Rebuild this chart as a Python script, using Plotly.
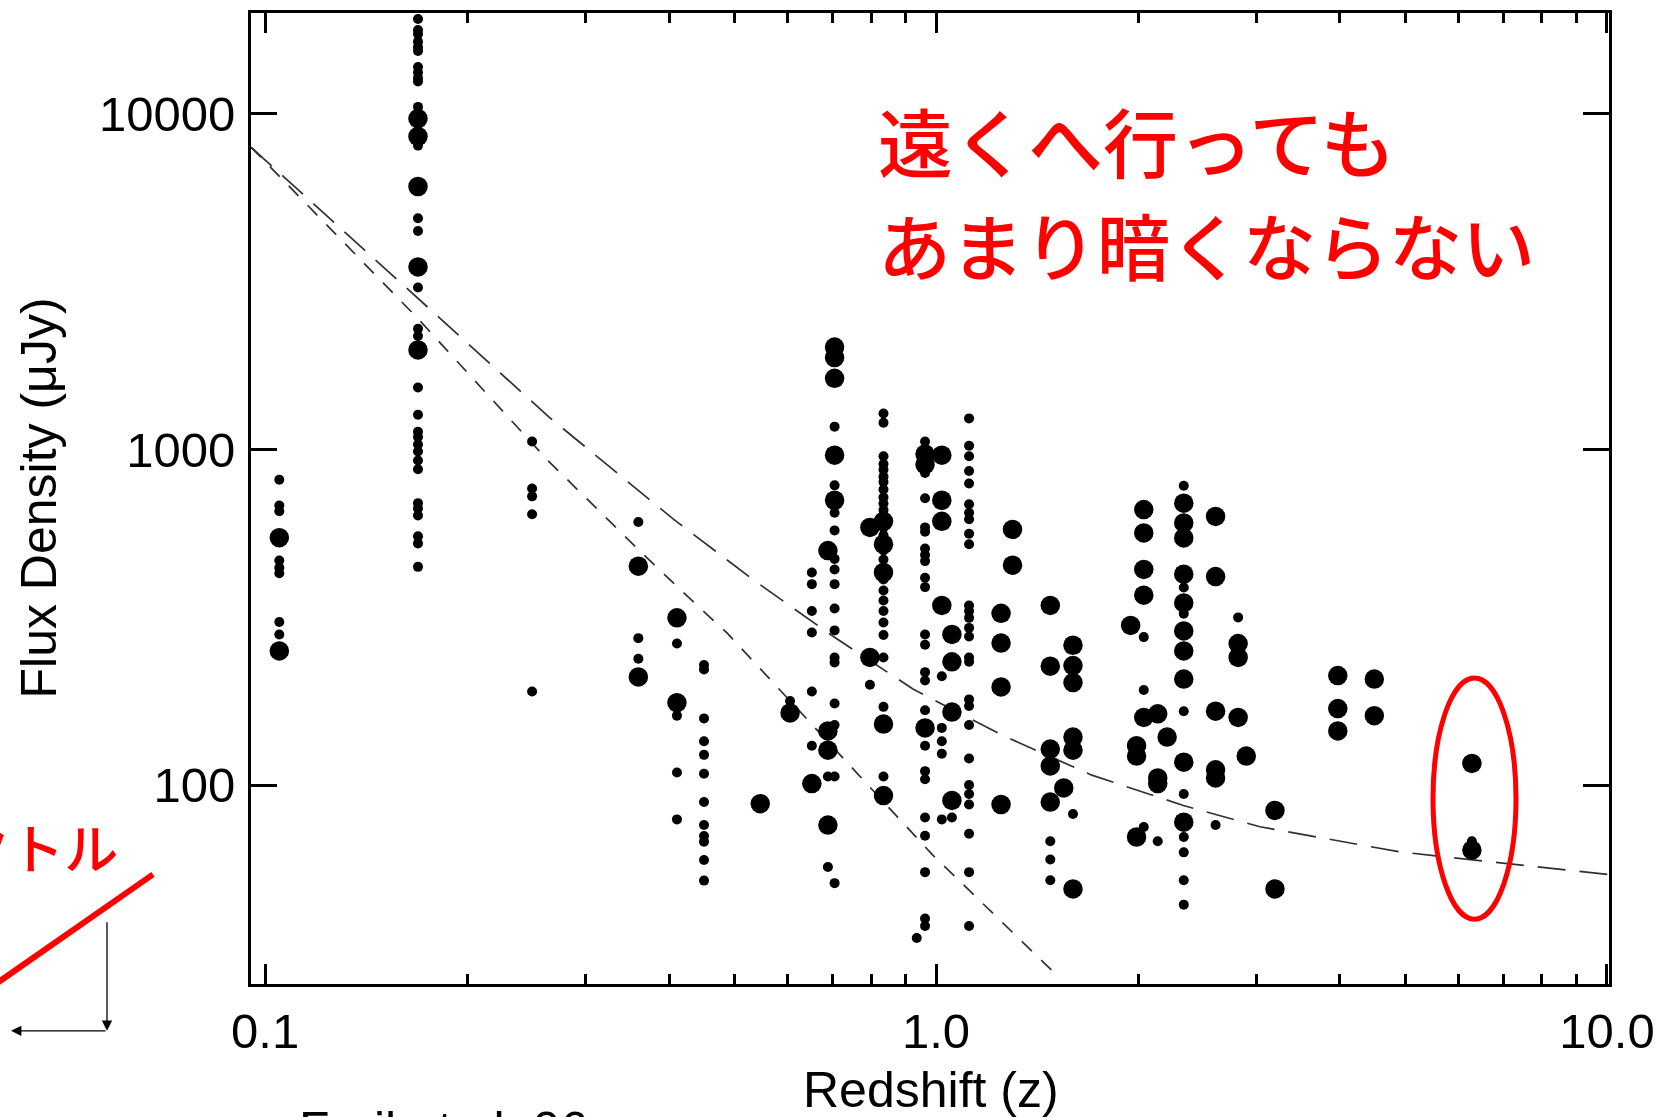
import plotly.graph_objects as go

# ---------------- data ----------------
# small dots: redshift and flux density (uJy)
small_z = ([0.105] * 8 + [0.169] * 31 + [0.25] * 5 + [0.36] * 3 + [0.411] * 4 + [0.451] * 12 +
           [0.606] * 1 + [0.653] * 6 + [0.69] * 2 + [0.706] * 15 + [0.797] * 1 + [0.835] * 26 +
           [0.963] * 23 + [0.936] * 1 + [1.02] * 5 + [1.056] * 1 + [1.12] * 27 + [1.48] * 3 +
           [1.60] * 1 + [2.04] * 3 + [2.14] * 1 + [2.34] * 9 + [2.61] * 1 + [2.82] * 1 + [6.29] * 1)
small_flux = [
    813, 681, 655, 467, 444, 428, 306, 281,
    19200, 17800, 17300, 16400, 15800, 15400, 13800, 13300, 12800, 12500, 10500, 8050, 4890, 4480,
    3040, 2290, 2180, 1530, 1270, 1130, 1090, 1035, 986, 927, 873, 692, 667, 636, 551, 525, 447,
    1057, 765, 725, 641, 190,
    608, 274, 238,
    264, 161, 109, 79,
    228, 221, 158, 135, 123, 108, 89, 76, 70.5, 67.8, 59.8, 51.9,
    178,
    430, 397, 330, 285, 190, 131,
    106, 57,
    1170, 782, 648, 574, 472, 439, 397, 336, 289, 240, 232, 175, 151, 106, 51,
    199,
    1281, 1202, 955, 905, 870, 830, 800, 760, 720, 690, 660, 620, 585, 555, 500, 470, 440, 410,
    380, 355, 330, 305, 280, 240, 171, 106,
    1057, 851, 716, 586, 569, 507, 485, 465, 415, 389, 281, 262, 217, 205, 167, 131, 110, 104,
    80, 70.6, 55, 40, 38,
    35,
    211, 148, 135, 124, 79,
    80,
    1238, 1026, 955, 863, 792, 687, 648, 620, 561, 522, 343, 330, 315, 294, 277, 240, 233, 180,
    172, 151, 120, 100, 94, 87.5, 71.6, 55, 38,
    68, 60, 52,
    82,
    276, 192, 75,
    68,
    780, 388, 324, 166, 94, 70, 63, 52, 44,
    76,
    316,
    68,
]

# big dots
big_z = ([0.105] * 2 + [0.169] * 5 + [0.36] * 2 + [0.411] * 2 + [0.547] * 1 + [0.606] * 1 +
         [0.653] * 1 + [0.69] * 4 + [0.706] * 5 + [0.797] * 2 + [0.835] * 5 + [0.963] * 3 +
         [1.02] * 4 + [1.056] * 4 + [1.25] * 4 + [1.30] * 2 + [1.48] * 5 + [1.55] * 1 + [1.60] * 6 +
         [1.95] * 1 + [1.99] * 3 + [2.04] * 5 + [2.14] * 3 + [2.21] * 1 + [2.34] * 10 + [2.61] * 5 +
         [2.82] * 3 + [2.90] * 1 + [3.2] * 2 + [3.97] * 3 + [4.5] * 2 + [6.29] * 2)
big_flux = [
    546, 251,
    9690, 8570, 6080, 3500, 1980,
    449, 210,
    315, 176,
    88,
    164,
    101,
    500, 145, 127, 76,
    2020, 1880, 1630, 962, 706,
    586, 240,
    611, 522, 430, 152, 93,
    969, 902, 148,
    962, 706, 611, 343,
    281, 233, 165, 90,
    325, 265, 196, 87.5,
    578, 452,
    343, 226, 128, 114, 89,
    98,
    261, 227, 202, 139, 127, 49,
    299,
    131, 122, 70,
    662, 564, 439, 368, 159,
    163, 105, 101,
    139,
    692, 604, 545, 425, 349, 288, 251, 207, 117, 77.5,
    632, 418, 166, 111, 105,
    264, 240, 159,
    122,
    84, 49,
    212, 169, 145,
    207, 161,
    116, 64,
]

# dashed model curves
upper_z = [0.0953, 0.169, 0.265, 0.406, 0.534, 0.703, 0.925, 1.253, 1.707, 2.337, 3.04, 4.91, 10.07]
upper_flux = [7960, 2830, 1249, 620, 409, 277, 193, 141, 107, 86.9, 75.1, 63.2, 54.1]
lower_z = [0.0953, 0.169, 0.264, 0.362, 0.42, 0.488, 0.621, 0.80, 0.989, 1.50]
lower_flux = [7960, 2455, 927, 498, 375, 284, 169, 97.7, 61.8, 27.6]

# axis ticks
x_tickvals = [0.1, 1, 10]
x_ticktext = ["0.1", "1.0", "10.0"]
x_minor = [0.2, 0.3, 0.4, 0.5, 0.6, 0.7, 0.8, 0.9, 2, 3, 4, 5, 6, 7, 8, 9]
y_tickvals = [100, 1000, 10000]
y_ticktext = ["100", "1000", "10000"]

assert len(small_z) == len(small_flux)
assert len(big_z) == len(big_flux)

# ---------------- figure ----------------
W, H = 1676, 1117
ML, MR, MT, MB = 251, 67, 10, 133
PW, PH = W - ML - MR, H - MT - MB


def px(xp):
    return (xp - ML) / PW


def py(yp):
    return (H - MB - yp) / PH


fig = go.Figure()
fig.add_trace(go.Scatter(x=upper_z, y=upper_flux, mode="lines",
                         line=dict(color="#303030", width=1.7, dash="28px,14px"),
                         hoverinfo="skip", showlegend=False))
fig.add_trace(go.Scatter(x=lower_z, y=lower_flux, mode="lines",
                         line=dict(color="#303030", width=1.7, dash="14px,13px"),
                         hoverinfo="skip", showlegend=False))
fig.add_trace(go.Scatter(x=small_z, y=small_flux, mode="markers",
                         marker=dict(size=10, color="black"), showlegend=False))
fig.add_trace(go.Scatter(x=big_z, y=big_flux, mode="markers",
                         marker=dict(size=19.5, color="black"), showlegend=False))

tick_font = dict(family="Liberation Sans, Arial, sans-serif", size=49, color="black")

fig.update_layout(
    width=W, height=H,
    margin=dict(l=ML, r=MR, t=MT, b=MB, pad=0),
    paper_bgcolor="white", plot_bgcolor="white",
    showlegend=False,
    xaxis=dict(type="log", range=[-1.021, 1.003], tickmode="array",
               tickvals=x_tickvals, ticktext=x_ticktext,
               ticks="inside", ticklen=20, tickwidth=2.5, tickcolor="black",
               showline=True, linewidth=3, linecolor="black", mirror="allticks",
               showgrid=False, zeroline=False, tickfont=tick_font,
               ticklabelstandoff=2,
               minor=dict(tickmode="array", tickvals=x_minor, ticks="inside", ticklen=10,
                          tickwidth=2.5, tickcolor="black", showgrid=False)),
    yaxis=dict(type="log", range=[1.407, 4.301], tickmode="array",
               tickvals=y_tickvals, ticktext=y_ticktext,
               ticks="inside", ticklen=26, tickwidth=2.5, tickcolor="black",
               showline=True, linewidth=3, linecolor="black", mirror="allticks",
               showgrid=False, zeroline=False, tickfont=tick_font,
               ticklabelstandoff=3),
)

red = "#ff0000"
jp = "Noto Sans CJK JP, sans-serif"
annotations = [
    dict(text="遠くへ行っても", x=px(876), y=py(137), xanchor="left", yanchor="middle",
         font=dict(family=jp, size=75, color=red, weight=500)),
    dict(text="あまり暗くならない", x=px(876), y=py(241), xanchor="left", yanchor="middle",
         font=dict(family=jp, size=73, color=red, weight=500)),
    dict(text="スペクトル", x=px(120), y=py(846), xanchor="right", yanchor="middle",
         font=dict(family=jp, size=54, color=red, weight=500)),
    dict(text="Redshift (z)", x=px(931), y=py(1090), xanchor="center", yanchor="middle",
         font=dict(family="Liberation Sans, Arial, sans-serif", size=50, color="black")),
    dict(text="Flux Density (μJy)", x=px(38), y=py(497), xanchor="center", yanchor="middle",
         textangle=-90,
         font=dict(family="Liberation Sans, Arial, sans-serif", size=50, color="black")),
    dict(text="Frail et al. 06", x=px(297), y=py(1100), xanchor="left", yanchor="top",
         font=dict(family="Liberation Sans, Arial, sans-serif", size=50, color="black")),
    # arrows in the left diagram
    dict(text="", x=px(107), y=py(1031), ax=0, ay=-110, showarrow=True,
         arrowhead=2, arrowsize=1.6, arrowwidth=1.3, arrowcolor="black"),
    dict(text="", x=px(11), y=py(1031), ax=96, ay=0, showarrow=True,
         arrowhead=2, arrowsize=1.6, arrowwidth=1.3, arrowcolor="black"),
]
for a in annotations:
    a.setdefault("xref", "paper")
    a.setdefault("yref", "paper")
    a.setdefault("showarrow", False)
fig.update_layout(annotations=annotations)

fig.update_layout(shapes=[
    dict(type="circle", xref="paper", yref="paper",
         x0=px(1433), x1=px(1516), y0=py(919), y1=py(677),
         line=dict(color=red, width=5)),
    dict(type="line", xref="paper", yref="paper",
         x0=px(-10), y0=py(988), x1=px(153), y1=py(874),
         line=dict(color=red, width=6)),
])

fig.write_html("out.html")
